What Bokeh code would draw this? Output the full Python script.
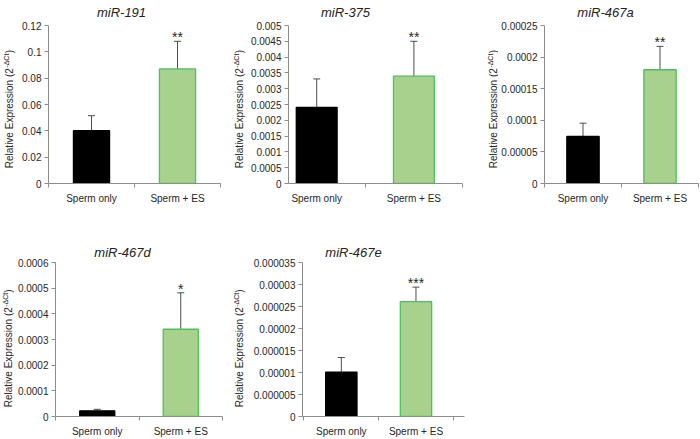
import math
from bokeh.plotting import figure
from bokeh.layouts import row, column
from bokeh.models import ColumnDataSource, Whisker, TeeHead, FixedTicker
from bokeh.core.properties import value
from bokeh.embed import file_html
from bokeh.resources import INLINE

# ---------------- data ----------------
groups = ["Sperm only", "Sperm + ES"]
ylabel_main = "Relative Expression (2"
ylabel_sup = "-ΔCt"
ylabel_end = ")"

mir191_title = "miR-191"
mir191_mean = [0.0401, 0.0870]
mir191_upper = [0.0515, 0.1080]
mir191_ticks = [0, 0.02, 0.04, 0.06, 0.08, 0.1, 0.12]
mir191_labels = ["0", "0.02", "0.04", "0.06", "0.08", "0.1", "0.12"]
mir191_stars = "**"

mir375_title = "miR-375"
mir375_mean = [0.00241, 0.00340]
mir375_upper = [0.00331, 0.00450]
mir375_ticks = [0, 0.0005, 0.001, 0.0015, 0.002, 0.0025, 0.003, 0.0035, 0.004, 0.0045, 0.005]
mir375_labels = ["0", "0.0005", "0.001", "0.0015", "0.002", "0.0025", "0.003", "0.0035", "0.004", "0.0045", "0.005"]
mir375_stars = "**"

mir467a_title = "miR-467a"
mir467a_mean = [0.0000745, 0.000180]
mir467a_upper = [0.0000955, 0.000217]
mir467a_ticks = [0, 0.00005, 0.0001, 0.00015, 0.0002, 0.00025]
mir467a_labels = ["0", "0.00005", "0.0001", "0.00015", "0.0002", "0.00025"]
mir467a_stars = "**"

mir467d_title = "miR-467d"
mir467d_mean = [0.000022, 0.000340]
mir467d_upper = [0.000028, 0.000482]
mir467d_ticks = [0, 0.0001, 0.0002, 0.0003, 0.0004, 0.0005, 0.0006]
mir467d_labels = ["0", "0.0001", "0.0002", "0.0003", "0.0004", "0.0005", "0.0006"]
mir467d_stars = "*"

mir467e_title = "miR-467e"
mir467e_mean = [0.0000101, 0.0000261]
mir467e_upper = [0.0000134, 0.0000294]
mir467e_ticks = [0, 0.000005, 0.00001, 0.000015, 0.00002, 0.000025, 0.00003, 0.000035]
mir467e_labels = ["0", "0.000005", "0.00001", "0.000015", "0.00002", "0.000025", "0.00003", "0.000035"]
mir467e_stars = "***"

FONT = "Liberation Sans"
TXT = "#262626"
AX = "#8c8c8c"
YL_SIZE = 10
YL_SUP = 7

# Arial-metric advance widths (per 1000 em)
_W = {"R": 722, "e": 556, "l": 222, "a": 556, "t": 278, "i": 222, "v": 500, " ": 278,
      "E": 667, "x": 500, "p": 556, "r": 333, "s": 500, "o": 556, "n": 556, "(": 333,
      "2": 556, ")": 333, "-": 333, "Δ": 668, "C": 722, "m": 833, "d": 556}


def text_w(s, size):
    return sum(_W.get(c, 556) for c in s) / 1000.0 * size


def make_panel(title, means, uppers, ticks, labels, stars, width, height,
               left, right, top, bottom, xr, title_center, title_standoff, title_valign):
    p = figure(width=width, height=height, output_backend="svg", toolbar_location=None,
               tools="", x_range=xr, y_range=(0, ticks[-1]),
               min_border_left=left, min_border_right=right,
               min_border_top=top, min_border_bottom=bottom, title=title)
    p.outline_line_color = None
    p.xgrid.visible = False
    p.ygrid.visible = False

    t = p.title
    t.text_font = FONT
    t.text_font_style = "italic"
    t.text_font_size = "13px"
    t.text_color = "#222222"
    t.align = "left"
    t.vertical_align = title_valign
    t.offset = title_center - left - text_w(title, 13) / 2.0
    if "standoff" in t.properties():
        t.standoff = title_standoff

    src = ColumnDataSource(dict(x=[1, 2], top=means, upper=uppers,
                                fill=["#000000", "#a9d18e"],
                                line=["#000000", "#45c554"]))
    p.vbar(x="x", top="top", bottom=0, width=0.42, fill_color="fill",
           line_color="line", line_width=1.3, source=src)
    w = Whisker(base="x", lower="top", upper="upper", source=src, dimension="height",
                line_color="#4d4d4d", line_width=1,
                upper_head=TeeHead(size=7, line_color="#4d4d4d", line_width=1),
                lower_head=None)
    p.add_layout(w)

    ssrc = ColumnDataSource(dict(x=[2], y=[uppers[1]], t=[stars]))
    p.text(x="x", y="y", text="t", source=ssrc, text_align="center",
           text_baseline="alphabetic", y_offset=-4, text_font=value(FONT),
           text_font_size="14px", text_color=TXT)

    xa = p.xaxis[0]
    xa.ticker = FixedTicker(ticks=[1, 2], minor_ticks=[0.5, 1.5, 2.5])
    xa.major_label_overrides = {1: groups[0], 2: groups[1]}
    xa.major_tick_out = 0
    xa.major_tick_in = 0
    xa.minor_tick_out = 4
    xa.minor_tick_in = 0
    xa.axis_line_color = AX
    xa.minor_tick_line_color = AX
    xa.major_label_text_font = FONT
    xa.major_label_text_font_size = "10px"
    xa.major_label_text_color = TXT
    xa.major_label_standoff = 5

    ya = p.yaxis[0]
    ya.ticker = FixedTicker(ticks=ticks)
    ya.major_label_overrides = {tk: lb for tk, lb in zip(ticks, labels)}
    ya.minor_tick_line_color = None
    ya.major_tick_out = 4
    ya.major_tick_in = 0
    ya.axis_line_color = AX
    ya.major_tick_line_color = AX
    ya.major_label_text_font = FONT
    ya.major_label_text_font_size = "10px"
    ya.major_label_text_color = TXT
    ya.major_label_standoff = 3
    return p


def make_ylabel(width, height, top, bottom, cx, dy):
    """Narrow strip holding the rotated y-axis title with its superscript.
    Its frame is aligned with the neighbouring plot frame by the row layout,
    so the y range is expressed in pixels of that frame (0 = frame bottom)."""
    frame_h = height - top - bottom
    q = figure(width=width, height=height, output_backend="svg", toolbar_location=None,
               tools="", x_range=(0, width), y_range=(0, frame_h),
               x_axis_type=None, y_axis_type=None,
               min_border_left=0, min_border_right=0,
               min_border_top=top, min_border_bottom=bottom)
    q.outline_line_color = None
    w_main = text_w(ylabel_main, YL_SIZE)
    w_sup = text_w(ylabel_sup, YL_SUP)
    w_end = text_w(ylabel_end, YL_SIZE)
    total = w_main + w_sup + w_end
    # junction point between "(2" and the superscript (measured from the frame bottom)
    yj = frame_h / 2.0 - dy - total / 2.0 + w_main
    q.text(x=[cx], y=[yj], text=[ylabel_main], angle=math.pi / 2, text_align="right",
           text_baseline="middle", text_font=value(FONT), text_font_size=f"{YL_SIZE}px",
           text_color=TXT)
    q.text(x=[cx - 3], y=[yj + 0.5], text=[ylabel_sup], angle=math.pi / 2,
           text_align="left", text_baseline="middle", text_font=value(FONT),
           text_font_size=f"{YL_SUP}px", text_color=TXT)
    q.text(x=[cx], y=[yj + w_sup + 1], text=[ylabel_end], angle=math.pi / 2,
           text_align="left", text_baseline="middle", text_font=value(FONT),
           text_font_size=f"{YL_SIZE}px", text_color=TXT)
    return q


H1, T1, B1 = 222, 25, 39
H2, T2, B2 = 217, 40, 18

l1 = make_ylabel(16, H1, T1, B1, 9, 5)
p1 = make_panel(mir191_title, mir191_mean, mir191_upper, mir191_ticks, mir191_labels, mir191_stars,
                214, H1, 32, 10, T1, B1, (0.5, 2.5), 105, 8, "top")
l2 = make_ylabel(16, H1, T1, B1, 9, 5)
p2 = make_panel(mir375_title, mir375_mean, mir375_upper, mir375_ticks, mir375_labels, mir375_stars,
                224, H1, 42, 8, T1, B1, (0.71, 2.5), 99, 8, "top")
l3 = make_ylabel(28, H1, T1, B1, 23, 5)
p3 = make_panel(mir467a_title, mir467a_mean, mir467a_upper, mir467a_ticks, mir467a_labels, mir467a_stars,
                202, H1, 44, 2, T1, B1, (0.5, 2.5), 105, 8, "top")

l4 = make_ylabel(14, H2, T2, B2, 8, 8)
p4 = make_panel(mir467d_title, mir467d_mean, mir467d_upper, mir467d_ticks, mir467d_labels, mir467d_stars,
                218, H2, 37, 10, T2, B2, (0.5, 2.5), 104, 5, "bottom")
l5 = make_ylabel(14, H2, T2, B2, 7, 8)
p5 = make_panel(mir467e_title, mir467e_mean, mir467e_upper, mir467e_ticks, mir467e_labels, mir467e_stars,
                224, H2, 56, 6, T2, B2, (0.48, 2.65), 107, 5, "bottom")

layout = column(row(l1, p1, l2, p2, l3, p3), row(l4, p4, l5, p5))

open("out.html", "w").write(file_html(layout, INLINE))
